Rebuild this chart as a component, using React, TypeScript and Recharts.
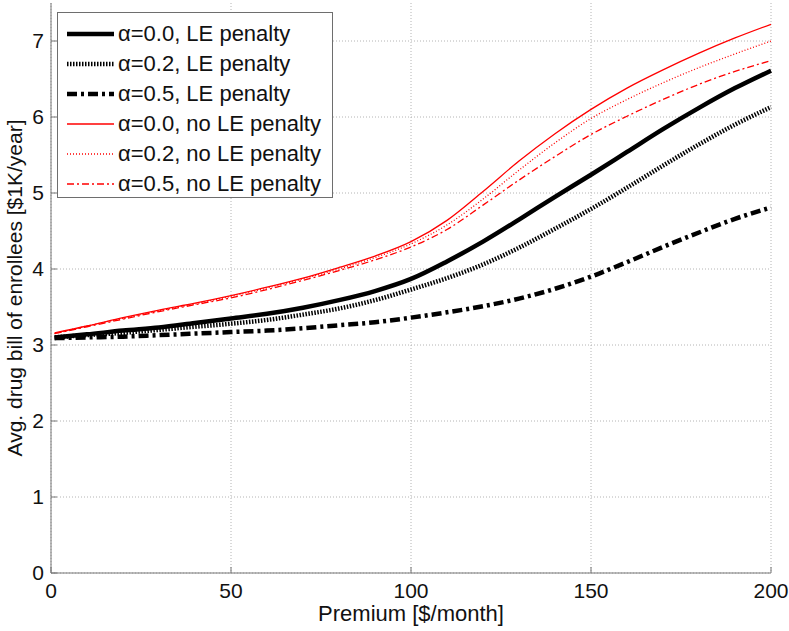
import React from 'react';
import { LineChart, Line, XAxis, YAxis, CartesianGrid, Legend, Label } from 'recharts';

const premium = [1, 10, 20, 30, 40, 50, 60, 70, 80, 90, 100, 110, 120, 130, 140, 150, 160, 170, 180, 190, 200];
const le00 = [3.10, 3.14, 3.19, 3.23, 3.29, 3.35, 3.41, 3.49, 3.59, 3.71, 3.87, 4.10, 4.36, 4.65, 4.95, 5.24, 5.54, 5.84, 6.12, 6.38, 6.61];
const le02 = [3.10, 3.13, 3.16, 3.20, 3.24, 3.28, 3.33, 3.40, 3.48, 3.59, 3.73, 3.88, 4.06, 4.28, 4.53, 4.79, 5.07, 5.36, 5.64, 5.90, 6.13];
const le05 = [3.09, 3.10, 3.11, 3.13, 3.15, 3.17, 3.19, 3.22, 3.26, 3.30, 3.36, 3.43, 3.51, 3.61, 3.74, 3.90, 4.09, 4.29, 4.48, 4.66, 4.81];
const no00 = [3.16, 3.25, 3.36, 3.46, 3.55, 3.65, 3.76, 3.88, 4.02, 4.17, 4.36, 4.64, 5.02, 5.42, 5.78, 6.10, 6.38, 6.62, 6.84, 7.04, 7.22];
const no02 = [3.15, 3.25, 3.35, 3.45, 3.54, 3.64, 3.75, 3.87, 4.00, 4.15, 4.33, 4.58, 4.92, 5.30, 5.66, 5.98, 6.23, 6.45, 6.65, 6.83, 7.00];
const no05 = [3.15, 3.24, 3.34, 3.44, 3.53, 3.62, 3.73, 3.85, 3.98, 4.12, 4.29, 4.52, 4.84, 5.17, 5.48, 5.77, 6.01, 6.23, 6.43, 6.60, 6.74];

const xTicks = [0, 50, 100, 150, 200];
const yTicks = [0, 1, 2, 3, 4, 5, 6, 7];

const seriesNames = [
  'α=0.0, LE penalty',
  'α=0.2, LE penalty',
  'α=0.5, LE penalty',
  'α=0.0, no LE penalty',
  'α=0.2, no LE penalty',
  'α=0.5, no LE penalty',
];

const data = premium.map((p, i) => ({
  p,
  s0: le00[i],
  s1: le02[i],
  s2: le05[i],
  s3: no00[i],
  s4: no02[i],
  s5: no05[i],
}));

const FONT = '"Liberation Sans", Arial, Helvetica, sans-serif';

const styles = [
  { key: 's0', color: '#000000', width: 4.5, dash: undefined as string | undefined },
  { key: 's1', color: '#000000', width: 4.5, dash: '1.5 1.5' },
  { key: 's2', color: '#000000', width: 4.5, dash: '10 4 3 4' },
  { key: 's3', color: '#ff0000', width: 1.3, dash: undefined as string | undefined },
  { key: 's4', color: '#ff0000', width: 1.3, dash: '1 2' },
  { key: 's5', color: '#ff0000', width: 1.3, dash: '7 3 2 3' },
];

const LegendBox = () => (
  <div
    style={{
      width: 276,
      height: 186,
      boxSizing: 'border-box',
      border: '1px solid #6e6e6e',
      background: '#fff',
      paddingTop: 6,
      fontFamily: FONT,
      fontSize: 22,
      color: '#111',
    }}
  >
    {styles.map((s, i) => (
      <div key={s.key} style={{ height: 30, display: 'flex', alignItems: 'center' }}>
        <svg width={60} height={30} style={{ display: 'block', flex: 'none' }}>
          <line x1={9} x2={56} y1={15} y2={15} stroke={s.color} strokeWidth={s.width} strokeDasharray={s.dash} />
        </svg>
        <span style={{ whiteSpace: 'nowrap' }}>{seriesNames[i]}</span>
      </div>
    ))}
  </div>
);

const YLabel = (props: any) => {
  const vb = props.viewBox || {};
  const cy = (vb.y || 0) + (vb.height || 0) / 2;
  const cx = 14;
  return (
    <text
      x={cx}
      y={cy}
      transform={`rotate(-90 ${cx} ${cy})`}
      textAnchor="middle"
      dominantBaseline="central"
      fontFamily={FONT}
      fontSize={21}
      fill="#111"
    >
      Avg. drug bill of enrollees [$1K/year]
    </text>
  );
};

const XLabel = (props: any) => {
  const vb = props.viewBox || {};
  const cx = (vb.x || 0) + (vb.width || 0) / 2;
  return (
    <text x={cx} y={613} textAnchor="middle" dominantBaseline="central" fontFamily={FONT} fontSize={22} fill="#111">
      Premium [$/month]
    </text>
  );
};

const emptyTick = () => <g />;

export default function App() {
  return (
    <div style={{ position: 'absolute', left: 0, top: 0, width: 789, height: 631, background: '#fff' }}>
      <LineChart width={789} height={631} data={data} margin={{ top: 3, right: 18, bottom: 0, left: 0 }}>
        <CartesianGrid stroke="#b4b4b4" strokeDasharray="1 2" horizontalValues={yTicks} verticalValues={xTicks} />
        <XAxis
          dataKey="p"
          type="number"
          domain={[0, 200]}
          ticks={xTicks}
          height={58}
          stroke="#777"
          tickSize={-6}
          tickMargin={16}
          tick={{ fill: '#111', fontSize: 21, fontFamily: FONT }}
          interval={0}
        >
          <Label content={<XLabel />} />
        </XAxis>
        <XAxis
          xAxisId="top"
          orientation="top"
          dataKey="p"
          type="number"
          domain={[0, 200]}
          ticks={xTicks}
          height={0}
          stroke="#777"
          tickSize={-6}
          tick={emptyTick}
        />
        <YAxis
          type="number"
          domain={[0, 7.5]}
          ticks={yTicks}
          width={51}
          stroke="#777"
          tickSize={-6}
          tickMargin={13}
          tick={{ fill: '#111', fontSize: 21, fontFamily: FONT }}
          interval={0}
        >
          <Label content={<YLabel />} />
        </YAxis>
        <YAxis
          yAxisId="right"
          orientation="right"
          type="number"
          domain={[0, 7.5]}
          ticks={yTicks}
          width={0}
          stroke="#777"
          tickSize={-6}
          tick={emptyTick}
        />
        {styles.map((s, i) => (
          <Line
            key={s.key}
            type="monotone"
            dataKey={s.key}
            name={seriesNames[i]}
            stroke={s.color}
            strokeWidth={s.width}
            strokeDasharray={s.dash}
            dot={false}
            activeDot={false}
            isAnimationActive={false}
          />
        ))}
        <Legend
          layout="vertical"
          align="center"
          verticalAlign="middle"
          content={<LegendBox />}
          wrapperStyle={{ left: 57, top: 12, width: 276, height: 186 }}
        />
      </LineChart>
    </div>
  );
}
